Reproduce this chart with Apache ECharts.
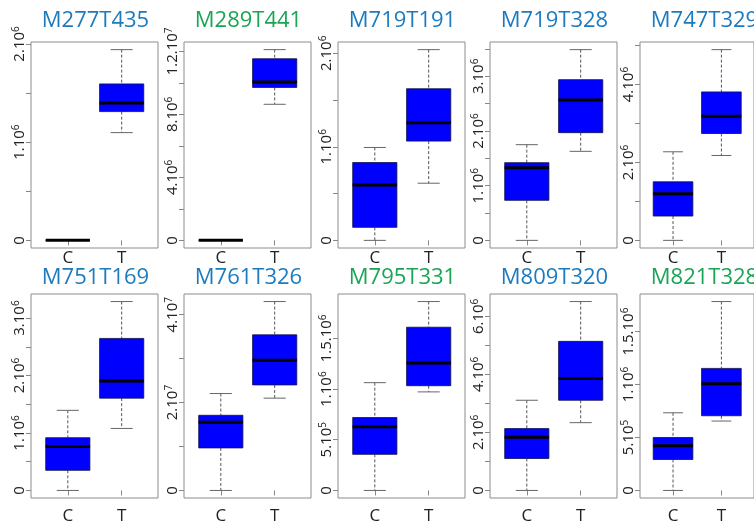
<!DOCTYPE html>
<html><head><meta charset="utf-8">
<script src="https://cdn.jsdelivr.net/npm/echarts@6/dist/echarts.min.js"></script>
<style>html,body{margin:0;padding:0;background:#fff}#c{width:754px;height:525px}</style>
</head><body><div id="c"></div>
<script>
const titles = ['M277T435','M289T441','M719T191','M719T328','M747T329','M751T169','M761T326','M795T331','M809T320','M821T328'];
const greenTitles = ['M289T441','M795T331','M821T328'];
const groups = ['C','T'];
const groupPos = [1, 2];
// [min, Q1, median, Q3, max]
const statsC = [
  [0, 0, 0, 0, 0],
  [0, 0, 0, 0, 0],
  [0, 0.139e6, 0.593e6, 0.832e6, 0.993e6],
  [0, 0.732e6, 1.329e6, 1.421e6, 1.75e6],
  [0, 0.624e6, 1.197e6, 1.504e6, 2.274e6],
  [0, 0.350e6, 0.763e6, 0.918e6, 1.394e6],
  [0, 0.968e7, 1.553e7, 1.711e7, 2.206e7],
  [0, 0.356e6, 0.628e6, 0.719e6, 1.063e6],
  [0, 1.100e6, 1.837e6, 2.132e6, 3.108e6],
  [0, 0.292e6, 0.422e6, 0.500e6, 0.733e6]
];
const statsT = [
  [1.097e6, 1.311e6, 1.399e6, 1.593e6, 1.942e6],
  [8.64e6, 9.71e6, 10.05e6, 11.53e6, 12.11e6],
  [0.611e6, 1.061e6, 1.257e6, 1.621e6, 2.039e6],
  [1.628e6, 1.970e6, 2.567e6, 2.939e6, 3.488e6],
  [2.179e6, 2.744e6, 3.188e6, 3.812e6, 4.897e6],
  [1.079e6, 1.606e6, 1.905e6, 2.645e6, 3.287e6],
  [2.101e7, 2.402e7, 2.964e7, 3.542e7, 4.300e7],
  [0.972e6, 1.033e6, 1.257e6, 1.610e6, 1.863e6],
  [2.336e6, 3.108e6, 3.856e6, 5.138e6, 6.510e6],
  [0.655e6, 0.705e6, 1.006e6, 1.152e6, 1.783e6]
];
const yTicks = [
  [0, 5e5, 1e6, 1.5e6, 2e6],
  [0, 2e6, 4e6, 6e6, 8e6, 1e7, 1.2e7],
  [0, 5e5, 1e6, 1.5e6, 2e6],
  [0, 5e5, 1e6, 1.5e6, 2e6, 2.5e6, 3e6, 3.5e6],
  [0, 1e6, 2e6, 3e6, 4e6, 5e6],
  [0, 5e5, 1e6, 1.5e6, 2e6, 2.5e6, 3e6],
  [0, 1e7, 2e7, 3e7, 4e7],
  [0, 5e5, 1e6, 1.5e6],
  [0, 1e6, 2e6, 3e6, 4e6, 5e6, 6e6],
  [0, 5e5, 1e6, 1.5e6]
];
const yLabels = [
  [0, 1e6, 2e6],
  [0, 4e6, 8e6, 1.2e7],
  [0, 1e6, 2e6],
  [0, 1e6, 2e6, 3e6],
  [0, 2e6, 4e6],
  [0, 1e6, 2e6, 3e6],
  [0, 2e7, 4e7],
  [0, 5e5, 1e6, 1.5e6],
  [0, 2e6, 4e6, 6e6],
  [0, 5e5, 1e6, 1.5e6]
];

const FONT = 'Open Sans';
const BLUE_T = '#1c7bbf';
const GREEN_T = '#1aa556';
const colLeft = [31, 184, 338, 490, 640];
const gridW = 127;
const rowTop = [42, 294];
const rowH = [206, 207];
const titleTop = [10, 267];
const BOX_W = 0.82;

function sciLabel(v) {
  if (v === 0) return '{b|0}';
  const e = Math.floor(Math.log10(v) + 1e-9);
  const m = +(v / Math.pow(10, e)).toFixed(2);
  return '{b|' + m + '.10}{s|' + e + '}';
}

function renderBox(params, api) {
  const x = api.value(0);
  const vals = [api.value(1), api.value(2), api.value(3), api.value(4), api.value(5)];
  const p = vals.map(v => api.coord([x, v]));
  const w = api.size([BOX_W, 0])[0];
  const cx = p[0][0];
  const cap = w * 0.25;
  const dash = { stroke: '#555', lineWidth: 1, lineDash: [3, 2] };
  const capStyle = { stroke: '#666', lineWidth: 1 };
  return {
    type: 'group',
    children: [
      { type: 'line', shape: { x1: cx, y1: p[4][1], x2: cx, y2: p[3][1] }, style: dash },
      { type: 'line', shape: { x1: cx, y1: p[1][1], x2: cx, y2: p[0][1] }, style: dash },
      { type: 'line', shape: { x1: cx - cap, y1: p[4][1], x2: cx + cap, y2: p[4][1] }, style: capStyle },
      { type: 'line', shape: { x1: cx - cap, y1: p[0][1], x2: cx + cap, y2: p[0][1] }, style: capStyle },
      { type: 'rect', shape: { x: cx - w / 2, y: p[3][1], width: w, height: p[1][1] - p[3][1] },
        style: { fill: '#0000ff', stroke: '#10104a', lineWidth: 0.8 } },
      { type: 'line', shape: { x1: cx - w / 2, y1: p[2][1], x2: cx + w / 2, y2: p[2][1] },
        style: { stroke: '#000', lineWidth: 3 } }
    ]
  };
}

const grid = [], xAxis = [], yAxis = [], series = [], title = [];
titles.forEach((name, i) => {
  const row = Math.floor(i / 5), col = i % 5;
  const left = colLeft[col];
  grid.push({ left: left, top: rowTop[row], width: gridW, height: rowH[row],
    show: true, borderColor: '#8c8c8c', borderWidth: 1, backgroundColor: 'transparent' });
  const hi = Math.max(...statsT[i], ...statsC[i]);
  const lo = Math.min(...statsT[i], ...statsC[i]);
  const ext = (hi - lo) * 0.04;
  xAxis.push({
    gridIndex: i, type: 'value', min: 0.317, max: 2.674,
    axisLine: { show: false }, splitLine: { show: false },
    axisTick: { show: true, length: 5, lineStyle: { color: '#888' }, customValues: groupPos },
    axisLabel: { customValues: groupPos, margin: row === 0 ? 2 : 10, fontFamily: FONT, fontSize: 17, color: '#222',
      formatter: v => groups[groupPos.indexOf(Math.round(v))] || '' }
  });
  yAxis.push({
    gridIndex: i, type: 'value', min: lo - ext, max: hi + ext,
    axisLine: { show: false }, splitLine: { show: false },
    axisTick: { show: true, length: 5, lineStyle: { color: '#888' }, customValues: yTicks[i] },
    axisLabel: {
      customValues: yLabels[i], rotate: 90, margin: 3, formatter: sciLabel,
      rich: {
        b: { fontFamily: FONT, fontSize: 15, lineHeight: 17, color: '#222' },
        s: { fontFamily: FONT, fontSize: 10, lineHeight: 10, verticalAlign: 'top', color: '#222' }
      }
    }
  });
  series.push({
    type: 'custom', xAxisIndex: i, yAxisIndex: i, renderItem: renderBox,
    encode: { x: 0, y: [1, 2, 3, 4, 5] },
    data: [[groupPos[0], ...statsC[i]], [groupPos[1], ...statsT[i]]],
    clip: false, silent: true
  });
  title.push({
    text: name, left: left + gridW / 2 + 1, top: titleTop[row], textAlign: 'center',
    padding: 0, z: 10,
    textStyle: { fontFamily: FONT, fontSize: 22, fontWeight: 'normal',
      color: greenTitles.includes(name) ? GREEN_T : BLUE_T }
  });
});

const chart = echarts.init(document.getElementById('c'), null, { renderer: 'canvas' });
chart.setOption({
  backgroundColor: '#fff', animation: false, title, grid, xAxis, yAxis, series,
  graphic: [{ type: 'rect', z: 8, silent: true,
    shape: { x: 0, y: 266, width: 754, height: 26 }, style: { fill: '#fff' } }]
});
</script>
</body></html>
